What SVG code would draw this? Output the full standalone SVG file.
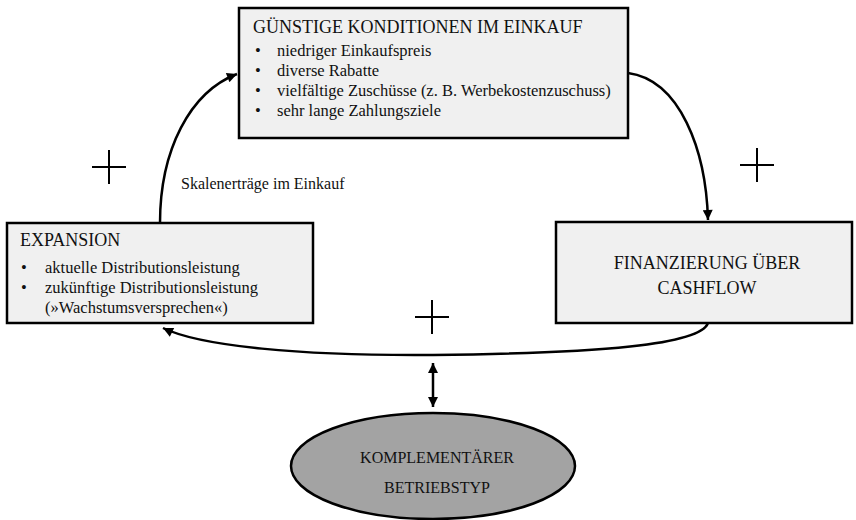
<svg xmlns="http://www.w3.org/2000/svg" width="856" height="520" viewBox="0 0 856 520">
<defs>
<marker id="ah" viewBox="0 0 10 10" refX="10" refY="5" markerWidth="12" markerHeight="10" markerUnits="userSpaceOnUse" orient="auto-start-reverse">
<path d="M0,0 L10,5 L0,10 z" fill="#000"/>
</marker>
<style>
.box{fill:#f0f0f0;stroke:#000;stroke-width:2.5}
.h{font-family:"Liberation Serif","Times New Roman",serif;font-size:18px;fill:#111}
.t{font-family:"Liberation Serif","Times New Roman",serif;font-size:16.5px;fill:#111}
.s{font-family:"Liberation Serif","Times New Roman",serif;font-size:16px;fill:#111}
.c{fill:none;stroke:#000;stroke-width:2.5}
.p{stroke:#000;stroke-width:2}
</style>
</defs>
<rect width="856" height="520" fill="#fff"/>
<g id="connectors">
<path class="c" d="M160,223 C160,150 190,92 237,74" marker-end="url(#ah)"/>
<path class="c" d="M628,73 C680,80 706,150 708,220" marker-end="url(#ah)"/>
<path class="c" d="M708,323 C700,345 600,353 433,355 C300,356 200,346 163,328" marker-end="url(#ah)"/>
<line class="c" x1="433" y1="363" x2="433" y2="407" stroke-width="2" marker-start="url(#ah)" marker-end="url(#ah)"/>
</g>
<g id="plus-left"><line class="p" x1="92" y1="167" x2="126" y2="167"/><line class="p" x1="109" y1="150" x2="109" y2="184"/></g>
<g id="plus-right"><line class="p" x1="740" y1="165" x2="774" y2="165"/><line class="p" x1="757" y1="148" x2="757" y2="182"/></g>
<g id="plus-mid"><line class="p" x1="415" y1="317" x2="449" y2="317"/><line class="p" x1="432" y1="300" x2="432" y2="334"/></g>
<g id="label-skalen"><text class="s" x="181" y="189">Skalenerträge im Einkauf</text></g>
<g id="node-einkauf">
<rect class="box" x="239" y="8" width="389" height="130"/>
<text class="h" x="253" y="33">GÜNSTIGE KONDITIONEN IM EINKAUF</text>
<text class="t" x="255" y="56">•</text><text class="t" x="277" y="56">niedriger Einkaufspreis</text>
<text class="t" x="255" y="76">•</text><text class="t" x="277" y="76">diverse Rabatte</text>
<text class="t" x="255" y="96">•</text><text class="t" x="277" y="96">vielfältige Zuschüsse (z. B. Werbekostenzuschuss)</text>
<text class="t" x="255" y="116">•</text><text class="t" x="277" y="116">sehr lange Zahlungsziele</text>
</g>
<g id="node-expansion">
<rect class="box" x="7" y="223" width="306" height="100"/>
<text class="h" x="20" y="246">EXPANSION</text>
<text class="t" x="21" y="273">•</text><text class="t" x="45" y="273">aktuelle Distributionsleistung</text>
<text class="t" x="21" y="293">•</text><text class="t" x="45" y="293">zukünftige Distributionsleistung</text>
<text class="t" x="45" y="313">(»Wachstumsversprechen«)</text>
</g>
<g id="node-finanzierung">
<rect class="box" x="556" y="222" width="296" height="101"/>
<text class="h" x="707" y="269" text-anchor="middle">FINANZIERUNG ÜBER</text>
<text class="h" x="707" y="294" text-anchor="middle">CASHFLOW</text>
</g>
<g id="node-betriebstyp">
<ellipse cx="433" cy="466" rx="142" ry="53" fill="#a3a3a3" stroke="#000" stroke-width="2.5"/>
<text class="s" x="437" y="463" text-anchor="middle">KOMPLEMENTÄRER</text>
<text class="s" x="437" y="493" text-anchor="middle">BETRIEBSTYP</text>
</g>
</svg>
